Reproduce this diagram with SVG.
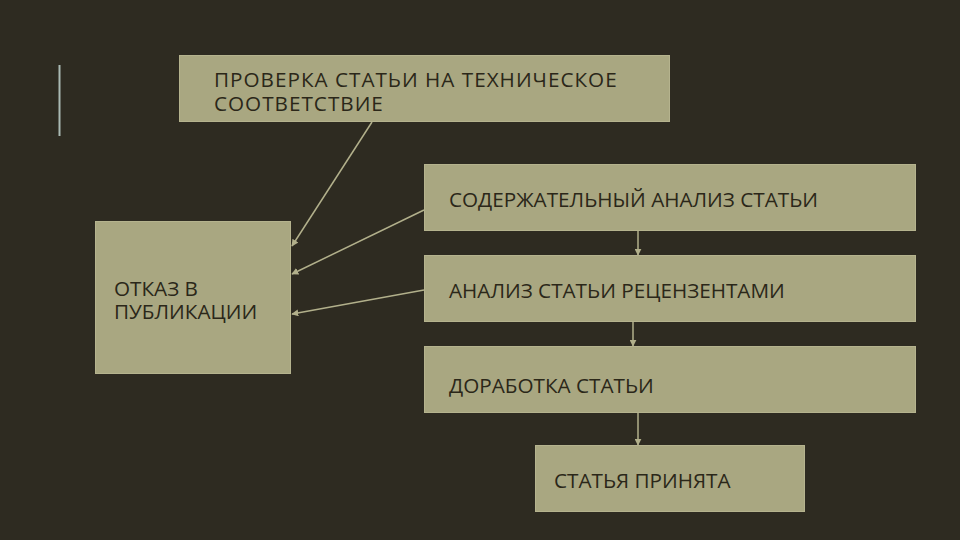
<svg xmlns="http://www.w3.org/2000/svg" width="960" height="540" viewBox="0 0 960 540">
<defs>
<style>
.box{fill:#a9a781;stroke:#b5b38e;stroke-width:1}
.t{font-family:"Open Sans","Noto Sans","DejaVu Sans",sans-serif;font-size:20.7px;fill:#2b2719}
.sp{letter-spacing:1px}
.c{stroke:#b2b08b;stroke-width:1.5;fill:none;marker-end:url(#ah)}
</style>
<marker id="ah" viewBox="0 0 10 10" refX="9" refY="5" markerWidth="7" markerHeight="7" orient="auto" markerUnits="userSpaceOnUse">
<path d="M0,0 L10,5 L0,10 z" fill="#b2b08b"/>
</marker>
</defs>
<rect width="960" height="540" fill="#2e2b21"/>
<rect x="58.5" y="65" width="2" height="71" fill="#a9bab3"/>
<g id="n-check"><rect class="box" x="179.5" y="55.5" width="490" height="66"/>
<text class="t sp" x="214" y="87">ПРОВЕРКА СТАТЬИ НА ТЕХНИЧЕСКОЕ</text>
<text class="t sp" x="214" y="111">СООТВЕТСТВИЕ</text></g>
<g id="n-content"><rect class="box" x="424.5" y="164.5" width="491" height="66"/>
<text class="t" x="449" y="207">СОДЕРЖАТЕЛЬНЫЙ АНАЛИЗ СТАТЬИ</text></g>
<g id="n-review"><rect class="box" x="424.5" y="255.5" width="491" height="66"/>
<text class="t" x="449" y="298">АНАЛИЗ СТАТЬИ РЕЦЕНЗЕНТАМИ</text></g>
<g id="n-revise"><rect class="box" x="424.5" y="346.5" width="491" height="66"/>
<text class="t" x="449" y="393">ДОРАБОТКА СТАТЬИ</text></g>
<g id="n-accepted"><rect class="box" x="535.5" y="445.5" width="269" height="66"/>
<text class="t" x="554" y="488">СТАТЬЯ ПРИНЯТА</text></g>
<g id="n-reject"><rect class="box" x="95.5" y="221.5" width="195" height="152"/>
<text class="t" x="114" y="296">ОТКАЗ В</text>
<text class="t" x="114" y="319">ПУБЛИКАЦИИ</text></g>
<g id="connectors">
<line class="c" x1="372" y1="122" x2="292" y2="246"/>
<line class="c" x1="424" y1="210" x2="292" y2="274"/>
<line class="c" x1="424" y1="290" x2="292" y2="314"/>
<line class="c" x1="638" y1="231" x2="638" y2="255"/>
<line class="c" x1="633" y1="322" x2="633" y2="346"/>
<line class="c" x1="638" y1="413" x2="638" y2="445"/>
</g>
</svg>
